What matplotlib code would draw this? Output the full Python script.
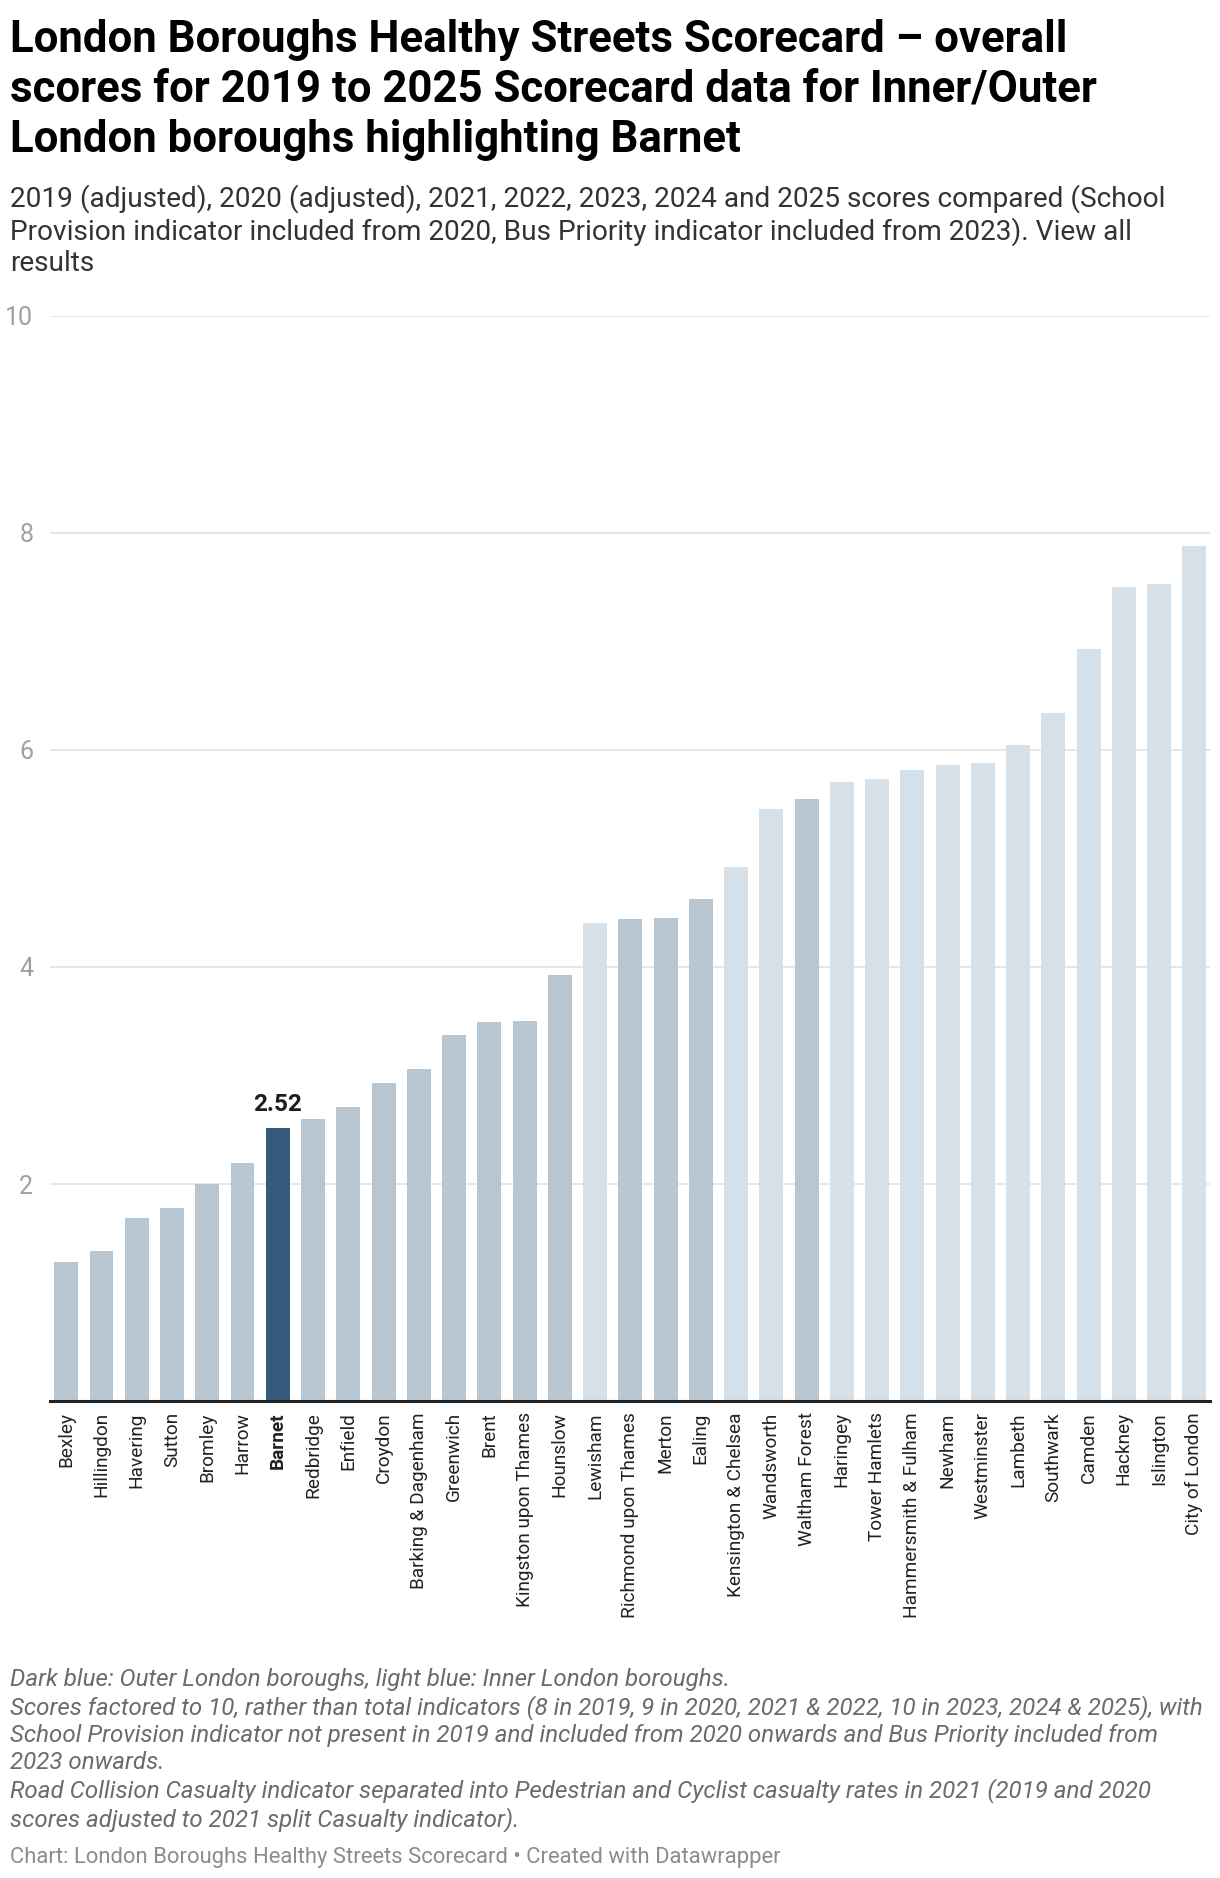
import matplotlib.pyplot as plt
import numpy as np

plt.rcParams['font.family'] = ['Roboto', 'DejaVu Sans']

boroughs = ['Bexley', 'Hillingdon', 'Havering', 'Sutton', 'Bromley', 'Harrow', 'Barnet',
            'Redbridge', 'Enfield', 'Croydon', 'Barking & Dagenham', 'Greenwich', 'Brent',
            'Kingston upon Thames', 'Hounslow', 'Lewisham', 'Richmond upon Thames', 'Merton',
            'Ealing', 'Kensington & Chelsea', 'Wandsworth', 'Waltham Forest', 'Haringey',
            'Tower Hamlets', 'Hammersmith & Fulham', 'Newham', 'Westminster', 'Lambeth',
            'Southwark', 'Camden', 'Hackney', 'Islington', 'City of London']
scores = [1.28, 1.38, 1.69, 1.78, 2.0, 2.19, 2.52,
          2.6, 2.71, 2.93, 3.06, 3.37, 3.49,
          3.5, 3.93, 4.4, 4.44, 4.45,
          4.63, 4.92, 5.45, 5.55, 5.7,
          5.73, 5.81, 5.86, 5.88, 6.04,
          6.34, 6.93, 7.5, 7.53, 7.88]
group = ['outer'] * 15 + ['inner'] + ['outer'] * 3 + ['inner', 'inner', 'outer'] + ['inner'] * 11
highlight = 'Barnet'

yticks = [2, 4, 6, 8, 10]

colors = {'outer': '#b8c6d1', 'inner': '#d5e0e8'}
bar_colors = ['#355b7c' if b == highlight else colors[g] for b, g in zip(boroughs, group)]

fig = plt.figure(figsize=(12.2, 18.78), dpi=100)
ax = fig.add_axes([0.041, 0.2539, 0.951, 0.5781])

x = np.arange(len(boroughs))
ax.bar(x, scores, width=0.68, color=bar_colors, zorder=2)

ax.set_xlim(-0.46, len(boroughs) - 0.55)
ax.set_ylim(0, 10)
ax.set_yticks(yticks)
ax.set_yticklabels([str(t) for t in yticks], fontsize=18, color='#a0a0a0')
ax.tick_params(axis='y', length=0, pad=12)
ax.yaxis.grid(True, color='#e4e4e4', linewidth=1.3, zorder=0)
for s in ['top', 'right', 'left']:
    ax.spines[s].set_visible(False)
ax.spines['bottom'].set_color('#222222')
ax.spines['bottom'].set_linewidth(2.2)
ax.spines['bottom'].set_zorder(3)

ax.set_xticks(x)
ax.set_xticklabels(boroughs, rotation=90, fontsize=13.7, color='#222222', va='top')
ax.tick_params(axis='x', length=0, pad=8)
for lbl in ax.get_xticklabels():
    if lbl.get_text() == highlight:
        lbl.set_fontweight('bold')

i = boroughs.index(highlight)
ax.annotate(f'{scores[i]:.2f}', (x[i], scores[i]), xytext=(0, 8), textcoords='offset points',
            ha='center', va='bottom', fontsize=17.5, fontweight='bold', color='#1d1d1d')

fig.text(0.008, 0.9899,
         'London Boroughs Healthy Streets Scorecard – overall\n'
         'scores for 2019 to 2025 Scorecard data for Inner/Outer\n'
         'London boroughs highlighting Barnet',
         fontsize=31.5, fontweight='bold', color='#000000', va='top', linespacing=1.24)

fig.text(0.008, 0.902,
         '2019 (adjusted), 2020 (adjusted), 2021, 2022, 2023, 2024 and 2025 scores compared (School\n'
         'Provision indicator included from 2020, Bus Priority indicator included from 2023). View all\n'
         'results',
         fontsize=20.2, color='#333333', va='top', linespacing=1.2)

fig.text(0.008, 0.1117,
         'Dark blue: Outer London boroughs, light blue: Inner London boroughs.\n'
         'Scores factored to 10, rather than total indicators (8 in 2019, 9 in 2020, 2021 & 2022, 10 in 2023, 2024 & 2025), with\n'
         'School Provision indicator not present in 2019 and included from 2020 onwards and Bus Priority included from\n'
         '2023 onwards.\n'
         'Road Collision Casualty indicator separated into Pedestrian and Cyclist casualty rates in 2021 (2019 and 2020\n'
         'scores adjusted to 2021 split Casualty indicator).',
         fontsize=17.4, style='italic', color='#6b6b6b', va='top', linespacing=1.21)

fig.text(0.008, 0.0082,
         'Chart: London Boroughs Healthy Streets Scorecard • Created with Datawrapper',
         fontsize=15.8, color='#8c8c8c', va='baseline')

fig.savefig('out.png', dpi=100, facecolor='white')
